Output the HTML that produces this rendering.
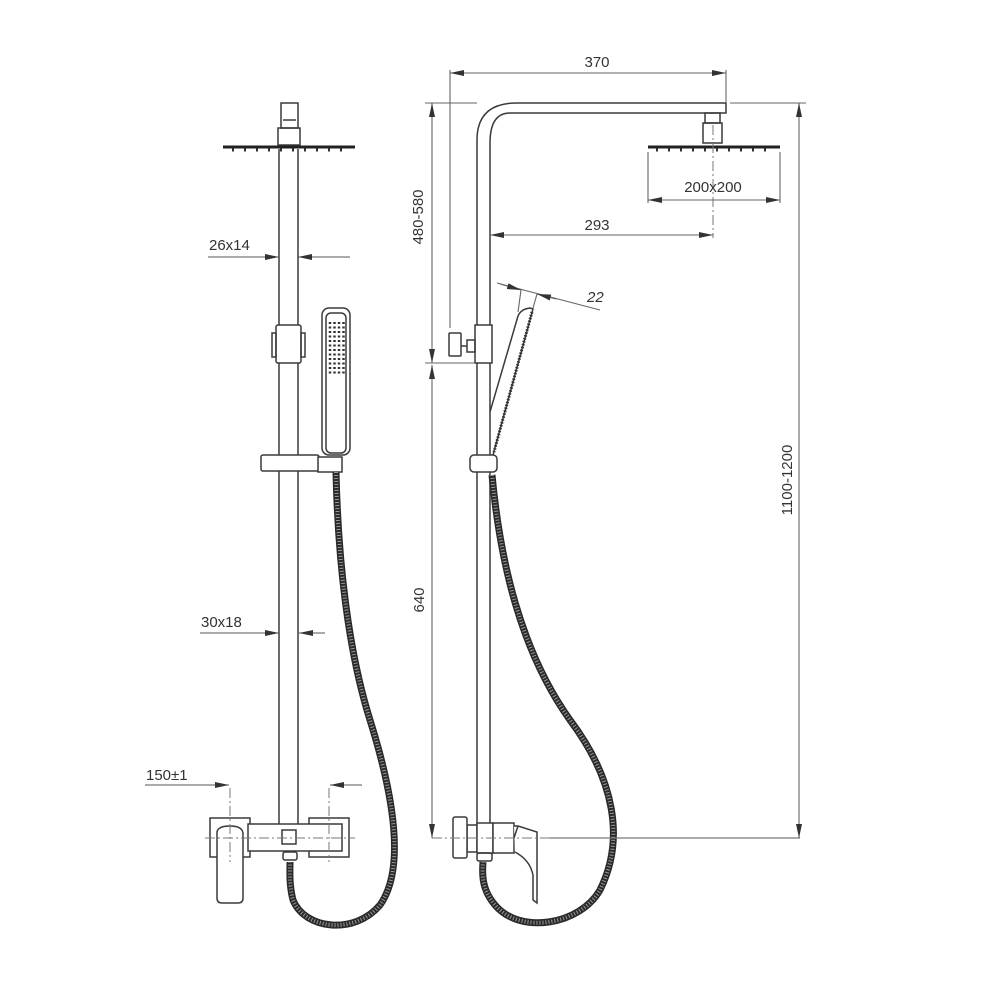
<!DOCTYPE html>
<html><head><meta charset="utf-8"><style>
html,body{margin:0;padding:0;background:#fff}
svg{display:block}
text{font-family:"Liberation Sans",sans-serif;fill:#333;font-size:15px}
</style></head><body>
<svg width="1000" height="1000" viewBox="0 0 1000 1000" xmlns="http://www.w3.org/2000/svg">
<defs>
<marker id="a" markerWidth="14" markerHeight="6" refX="14" refY="3" orient="auto" markerUnits="userSpaceOnUse"><path d="M0,0 L14,3 L0,6 Z" fill="#333"/></marker>
<marker id="s" markerWidth="14" markerHeight="6" refX="0" refY="3" orient="auto" markerUnits="userSpaceOnUse"><path d="M14,0 L0,3 L14,6 Z" fill="#333"/></marker>
</defs>
<g fill="none" stroke="#3a3a3a" stroke-width="1.5">
<rect x="281" y="103" width="17" height="25"/>
<line x1="283" y1="120" x2="296" y2="120"/>
<rect x="278" y="128" width="22" height="17"/>
<line x1="223" y1="147" x2="355" y2="147" stroke="#222" stroke-width="3"/>
<line x1="232" y1="150" x2="348" y2="150" stroke="#333" stroke-width="3" stroke-dasharray="2 10"/>
<line x1="279" y1="149" x2="279" y2="825"/>
<line x1="298" y1="149" x2="298" y2="825"/>
<rect x="276" y="325" width="25" height="38" rx="2" fill="#fff"/>
<rect x="272" y="333" width="4" height="24"/>
<rect x="301" y="333" width="4" height="24"/>
<rect x="322" y="308" width="28" height="147" rx="7"/>
<rect x="326" y="313" width="20" height="140" rx="5"/>
<g stroke="#333" stroke-width="2.5" stroke-dasharray="2 2.5">
<line x1="330" y1="322" x2="330" y2="376"/><line x1="334.5" y1="322" x2="334.5" y2="376"/><line x1="339" y1="322" x2="339" y2="376"/><line x1="343.5" y1="322" x2="343.5" y2="376"/>
</g>
<rect x="261" y="455" width="58" height="16" rx="2" fill="#fff"/>
<rect x="318" y="457" width="24" height="15" fill="#fff"/>
<path d="M336,472 C338,560 348,650 370,720 C395,800 405,870 380,905 C355,935 305,930 293,900 C289,885 290,870 290,862" stroke="#2a2a2a" stroke-width="7"/>
<path d="M336,472 C338,560 348,650 370,720 C395,800 405,870 380,905 C355,935 305,930 293,900 C289,885 290,870 290,862" stroke="#999" stroke-width="4" stroke-dasharray="1 2"/>
<rect x="210" y="818" width="40" height="39" fill="#fff"/>
<rect x="309" y="818" width="40" height="39" fill="#fff"/>
<rect x="248" y="824" width="94" height="27" fill="#fff"/>
<rect x="282" y="830" width="14" height="14"/>
<rect x="283" y="852" width="14" height="8" rx="2"/>
<path d="M217,832 Q218,826 230,826 Q243,826 243,834 L243,898 Q243,903 238,903 L222,903 Q217,903 217,898 Z" fill="#fff"/>
<line x1="205" y1="838" x2="355" y2="838" stroke="#777" stroke-width="1" stroke-dasharray="10 3 2 3"/>
<line x1="230" y1="788" x2="230" y2="862" stroke="#777" stroke-width="1" stroke-dasharray="10 3 2 3"/>
<line x1="329" y1="788" x2="329" y2="862" stroke="#777" stroke-width="1" stroke-dasharray="10 3 2 3"/>
</g>
<g fill="none" stroke="#555" stroke-width="1.1">
<line x1="208" y1="257" x2="279" y2="257" marker-end="url(#a)"/>
<line x1="350" y1="257" x2="298" y2="257" marker-end="url(#a)"/>
<line x1="200" y1="633" x2="279" y2="633" marker-end="url(#a)"/>
<line x1="325" y1="633" x2="299" y2="633" marker-end="url(#a)"/>
<line x1="145" y1="785" x2="229" y2="785" marker-end="url(#a)"/>
<line x1="362" y1="785" x2="330" y2="785" marker-end="url(#a)"/>
</g>
<text x="209" y="250">26x14</text>
<text x="201" y="627">30x18</text>
<text x="146" y="780">150±1</text>

<g fill="none" stroke="#3a3a3a" stroke-width="1.5">
<path d="M477,825 L477,140 Q477,103 517,103 L726,103 L726,113 L510,113 Q490,113 490,143 L490,825"/>
<rect x="705" y="113" width="15" height="10"/>
<rect x="703" y="123" width="19" height="20"/>
<line x1="648" y1="147" x2="780" y2="147" stroke="#222" stroke-width="3"/>
<line x1="656" y1="150" x2="774" y2="150" stroke="#333" stroke-width="3" stroke-dasharray="2 10"/>
<rect x="475" y="325" width="17" height="38" fill="#fff"/>
<rect x="467" y="340" width="8" height="12"/>
<rect x="449" y="333" width="12" height="23" rx="1"/>
<line x1="461" y1="346" x2="467" y2="346"/>
<path d="M490,412 L518,316 Q521,309 530,308 L533,309 L493,455"/>
<line x1="532" y1="312" x2="494" y2="452" stroke="#333" stroke-width="3" stroke-dasharray="1.5 1.5"/>
<rect x="470" y="455" width="27" height="17" rx="4" fill="#fff"/>
<path d="M492,475 C500,560 520,650 570,720 C615,780 625,840 600,890 C580,925 520,935 495,905 C482,890 482,875 483,862" stroke="#2a2a2a" stroke-width="7"/>
<path d="M492,475 C500,560 520,650 570,720 C615,780 625,840 600,890 C580,925 520,935 495,905 C482,890 482,875 483,862" stroke="#999" stroke-width="4" stroke-dasharray="1 2"/>
<rect x="467" y="825" width="10" height="27" fill="#fff"/>
<rect x="453" y="817" width="14" height="41" rx="2" fill="#fff"/>
<rect x="477" y="823" width="16" height="30" fill="#fff"/>
<rect x="493" y="823" width="21" height="30" fill="#fff"/>
<rect x="477" y="853" width="15" height="8" rx="2"/>
<path d="M514,826 L518,826 L537,832 L537,903 L533,900 L533,875 Q530,860 515,852 M518,826 L514,838" fill="#fff"/>
<line x1="432" y1="838" x2="550" y2="838" stroke="#777" stroke-width="1" stroke-dasharray="10 3 2 3"/>
<line x1="550" y1="838" x2="800" y2="838" stroke="#777" stroke-width="1.2"/>
<line x1="713" y1="125" x2="713" y2="238" stroke="#777" stroke-width="1" stroke-dasharray="10 3 2 3"/>
</g>
<g fill="none" stroke="#666" stroke-width="1.1">
<line x1="450" y1="73" x2="726" y2="73" marker-start="url(#s)" marker-end="url(#a)"/>
<line x1="450" y1="70" x2="450" y2="328"/>
<line x1="726" y1="70" x2="726" y2="103"/>
<line x1="648" y1="152" x2="648" y2="203"/>
<line x1="780" y1="152" x2="780" y2="203"/>
<line x1="648" y1="200" x2="780" y2="200" marker-start="url(#s)" marker-end="url(#a)"/>
<line x1="490" y1="235" x2="713" y2="235" marker-start="url(#s)" marker-end="url(#a)"/>
<line x1="425" y1="103" x2="477" y2="103"/>
<line x1="425" y1="363" x2="475" y2="363"/>
<line x1="432" y1="103" x2="432" y2="363" marker-start="url(#s)" marker-end="url(#a)"/>
<line x1="432" y1="365" x2="432" y2="838" marker-start="url(#s)" marker-end="url(#a)"/>
<line x1="730" y1="103" x2="806" y2="103"/>
<line x1="799" y1="103" x2="799" y2="838" marker-start="url(#s)" marker-end="url(#a)"/>
<line x1="497" y1="283" x2="600" y2="310"/>
<line x1="500" y1="284" x2="521" y2="290" marker-end="url(#a)"/>
<line x1="556" y1="299" x2="537" y2="294" marker-end="url(#a)"/>
<line x1="521" y1="290" x2="518" y2="312"/>
<line x1="537" y1="294" x2="533" y2="308"/>
</g>
<text x="597" y="67" text-anchor="middle">370</text>
<text x="713" y="192" text-anchor="middle">200x200</text>
<text x="597" y="230" text-anchor="middle">293</text>
<text x="587" y="302" font-style="italic">22</text>
<text transform="translate(423,217) rotate(-90)" text-anchor="middle">480-580</text>
<text transform="translate(424,600) rotate(-90)" text-anchor="middle">640</text>
<text transform="translate(792,480) rotate(-90)" text-anchor="middle">1100-1200</text>
</svg>
</body></html>
